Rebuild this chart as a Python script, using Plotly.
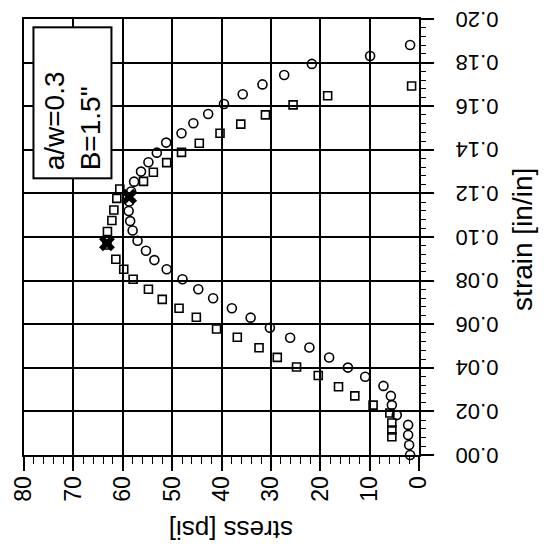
import plotly.graph_objects as go

# circle series (stress psi, strain in/in)
circ_stress = [1.8, 2.0, 2.2, 2.2, 4.5, 5.5, 5.7, 7.2, 10.9, 14.4, 18.2, 22.2, 26.1, 30.2, 34.1,
               37.9, 41.7, 44.7, 47.9, 51.1, 53.6, 55.3, 57.0, 58.0, 58.5, 58.8, 58.7, 58.3,
               57.7, 56.3, 54.8, 53.1, 51.2, 48.1, 45.7, 42.7, 39.5, 35.7, 31.7, 27.3, 21.7,
               9.9, 1.8]
circ_strain = [0.000, 0.0046, 0.0092, 0.0138, 0.0183, 0.0229, 0.0271, 0.0317, 0.0359, 0.0401,
               0.0447, 0.0493, 0.0538, 0.0584, 0.0630, 0.0673, 0.0719, 0.0760, 0.0806, 0.0852,
               0.0894, 0.0937, 0.0983, 0.1030, 0.1073, 0.1119, 0.1163, 0.1209, 0.1254, 0.1300,
               0.1343, 0.1387, 0.1433, 0.1476, 0.1522, 0.1564, 0.1610, 0.1655, 0.1700, 0.1743,
               0.1794, 0.1830, 0.1881]

# square series
sq_stress = [5.5, 5.5, 5.5, 5.9, 9.3, 13.0, 16.3, 20.4, 24.8, 28.7, 32.4, 36.8, 41.0, 45.1,
             48.6, 52.0, 54.8, 57.9, 59.8, 61.4, 63.2, 63.1, 62.2, 61.8, 61.2, 60.6, 55.8,
             53.8, 51.1, 48.1, 44.5, 40.3, 36.1, 31.1, 25.5, 18.5, 1.5]
sq_strain = [0.0084, 0.0115, 0.0147, 0.0193, 0.0229, 0.0271, 0.0313, 0.0365, 0.0404, 0.0448,
             0.0492, 0.0540, 0.0578, 0.0632, 0.0673, 0.0714, 0.0760, 0.0806, 0.0852, 0.0898,
             0.0963, 0.1025, 0.1076, 0.1124, 0.1177, 0.1220, 0.1255, 0.1297, 0.1341, 0.1388,
             0.1430, 0.1476, 0.1518, 0.1560, 0.1606, 0.1648, 0.1693]

# peak markers
peak_stress = [58.7, 63.2]
peak_strain = [0.1185, 0.0971]

x_ticks = [80, 70, 60, 50, 40, 30, 20, 10, 0]
y_ticks = [0.00, 0.02, 0.04, 0.06, 0.08, 0.10, 0.12, 0.14, 0.16, 0.18, 0.20]
label_text = "a/w=0.3<br>B=1.5\""

FONT = "Liberation Sans, Arial, sans-serif"

fig = go.Figure()
fig.add_trace(go.Scatter(x=circ_stress, y=circ_strain, mode="markers",
                         marker=dict(symbol="circle-open", size=9, color="black",
                                     line=dict(width=1.6)),
                         cliponaxis=False, showlegend=False))
fig.add_trace(go.Scatter(x=sq_stress, y=sq_strain, mode="markers",
                         marker=dict(symbol="square-open", size=8, color="black",
                                     line=dict(width=1.6)),
                         cliponaxis=False, showlegend=False))
fig.add_trace(go.Scatter(x=peak_stress, y=peak_strain, mode="markers",
                         marker=dict(symbol="x", size=14, color="black",
                                     line=dict(width=0)),
                         cliponaxis=False, showlegend=False))

fig.update_layout(
    width=548, height=546,
    margin=dict(l=16, r=137, t=11, b=99),
    paper_bgcolor="white", plot_bgcolor="white",
    font=dict(family=FONT, size=23, color="black"),
    xaxis=dict(range=[80, 0], tickmode="array", tickvals=x_ticks,
               ticktext=[str(v) for v in x_ticks], tickangle=-90, automargin=False,
               ticklabelstandoff=-4, ticklabeloverflow="allow",
               showgrid=True, gridcolor="black", gridwidth=1.5, zeroline=False,
               showline=True, linecolor="black", linewidth=2, mirror=True,
               ticks="outside", ticklen=14, tickwidth=1.5, tickcolor="black",
               minor=dict(dtick=2, ticks="outside", ticklen=7, tickwidth=1.2,
                          tickcolor="black", showgrid=False)),
    yaxis=dict(range=[0, 0.20], side="right", tickmode="array", tickvals=y_ticks,
               ticktext=["%.2f" % v for v in y_ticks], tickangle=180, automargin=False,
               ticklabelstandoff=60, ticklabeloverflow="allow", ticklabelshift=7,
               tickfont=dict(size=22),
               showgrid=True, gridcolor="black", gridwidth=1.5, zeroline=False,
               showline=True, linecolor="black", linewidth=2, mirror=True,
               ticks="outside", ticklen=13, tickwidth=1.5, tickcolor="black",
               minor=dict(dtick=0.004, ticks="outside", ticklen=5, tickwidth=1.2,
                          tickcolor="black", showgrid=False)),
)

fig.add_annotation(x=70.2, y=0.1615, xref="x", yref="y", text=label_text,
                   showarrow=False, textangle=-90, align="left",
                   font=dict(size=28, family=FONT),
                   bgcolor="white", bordercolor="black", borderwidth=2,
                   borderpad=7, width=135, height=62)
fig.add_annotation(x=0.524, y=-0.172, xref="paper", yref="paper", text="stress [psi]",
                   xanchor="center", yanchor="middle",
                   showarrow=False, textangle=180, font=dict(size=26, family=FONT))
fig.add_annotation(x=1.26, y=0.495, xref="paper", yref="paper", text="strain [in/in]",
                   xanchor="center", yanchor="middle",
                   showarrow=False, textangle=-90, font=dict(size=28, family=FONT))

fig.write_html("out.html")
